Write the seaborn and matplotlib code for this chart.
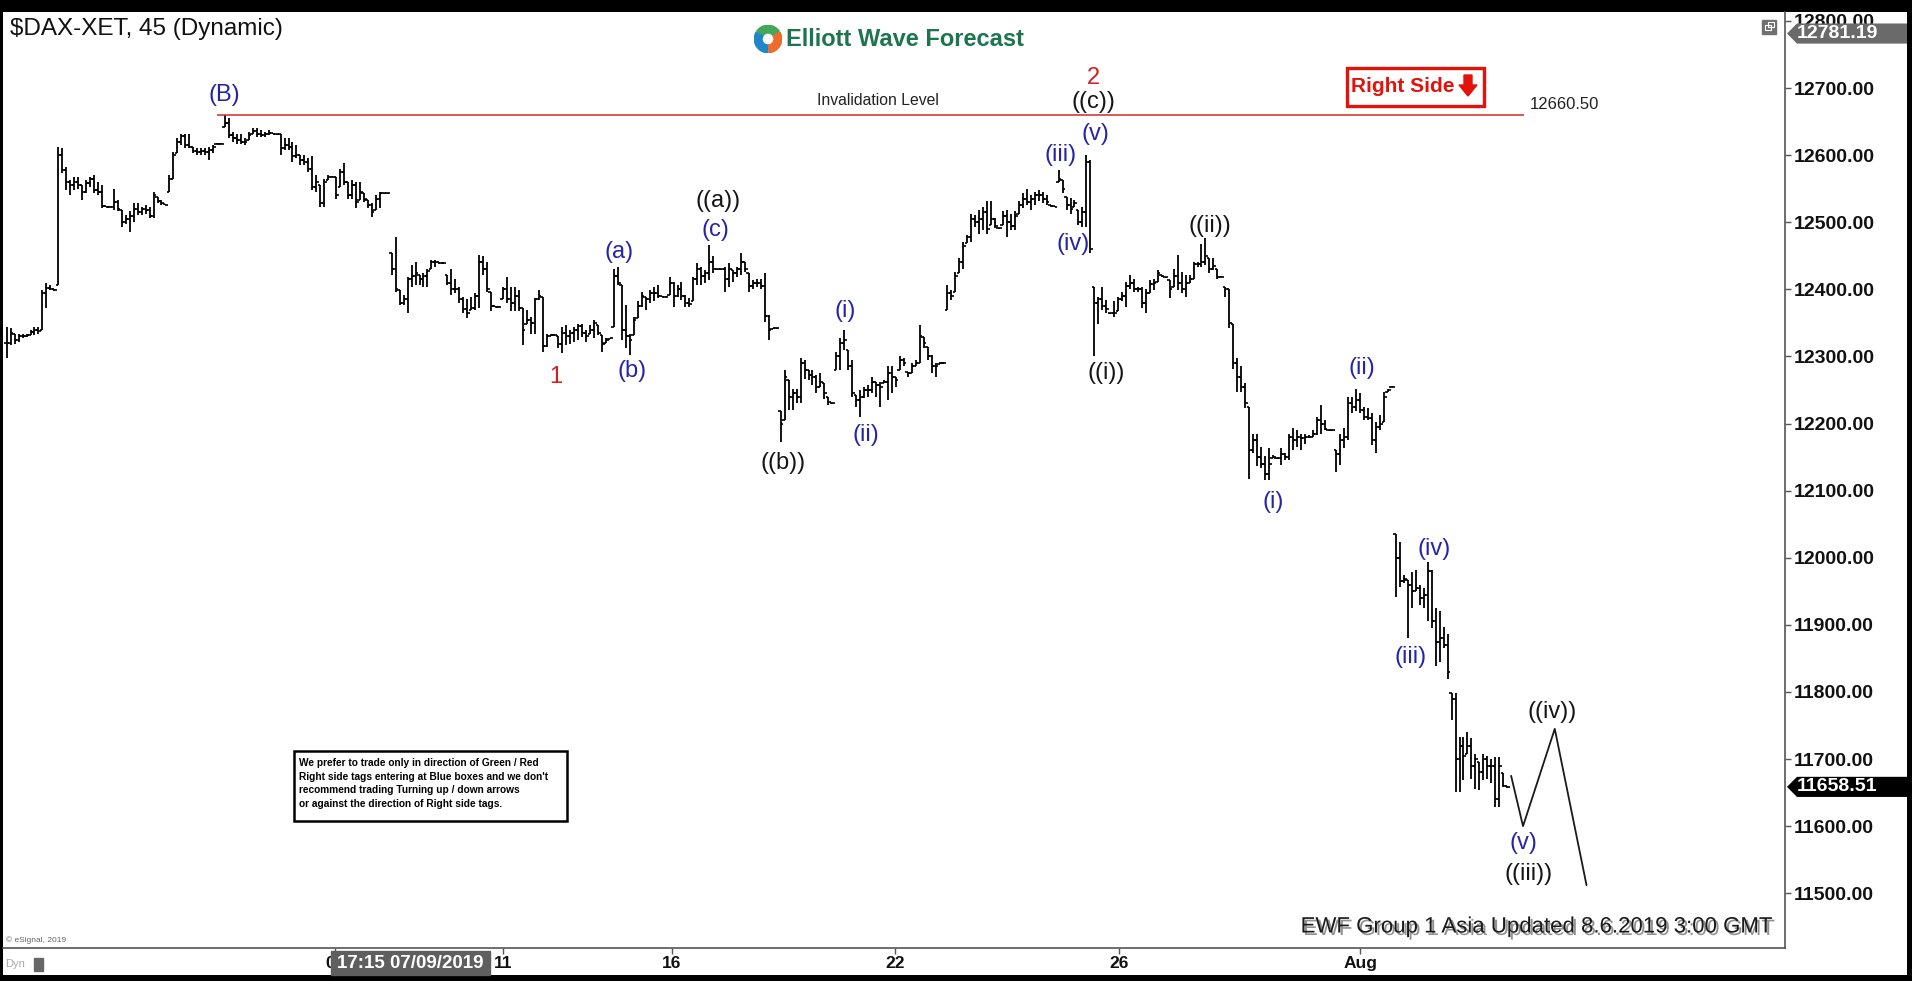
import numpy as np
import pandas as pd
import seaborn as sns
import matplotlib
matplotlib.use("Agg")
import matplotlib.pyplot as plt
from matplotlib import patches, transforms, font_manager
import matplotlib.patheffects as pe

W, H = 1912, 981

# ---- 45 min bars (left to right) ----
highs = [
    # late June / early July
    12344, 12342, 12334, 12334, 12334, 12334, 12339, 12344, 12344, 12399,
    12409, 12406, 12400, 12612, 12610, 12583, 12563, 12568, 12568, 12555,
    12563, 12568, 12570, 12560, 12555, 12524, 12524, 12550, 12533, 12518,
    12511, 12516, 12528, 12528, 12523, 12526, 12523, 12545, 12538, 12533,
    12527, 12570, 12605, 12625, 12632, 12632, 12632, 12612, 12610, 12610,
    12610, 12612, 12615, 12618, 12618, 12660, 12655, 12635, 12632, 12632,
    12625, 12635, 12640, 12640, 12637, 12635, 12637, 12633, 12632, 12632,
    12625, 12625, 12620, 12615, 12600, 12600, 12595, 12598, 12570, 12555,
    12565, 12570, 12569, 12568, 12580, 12588, 12560, 12563, 12560, 12560,
    12543, 12533, 12528, 12540, 12545, 12544, 12544,
    # wave 1 / ((a)) / ((b))
    12454, 12478, 12399, 12391, 12419, 12436, 12441, 12421, 12424, 12431,
    12444, 12444, 12440, 12440, 12421, 12431, 12416, 12404, 12389, 12386,
    12389, 12394, 12451, 12449, 12441, 12396, 12375, 12375, 12404, 12419,
    12404, 12404, 12399, 12372, 12369, 12359, 12387, 12399, 12389, 12334,
    12334, 12333, 12330, 12344, 12347, 12339, 12344, 12349, 12349, 12339,
    12347, 12354, 12347, 12332, 12327, 12328, 12431, 12434, 12406, 12377,
    12334, 12359, 12382, 12396, 12389, 12399, 12404, 12406, 12390, 12390,
    12419, 12411, 12406, 12411, 12391, 12387, 12419, 12439, 12434, 12429,
    12466, 12449, 12431, 12431, 12434, 12439, 12429, 12434, 12454, 12441,
    12424, 12414, 12416, 12416, 12424, 12362, 12343, 12343, 12218, 12280,
    12265,
    # ((c)) up to wave 2
    12252, 12252, 12297, 12295, 12280, 12280, 12272, 12275, 12260, 12240,
    12231, 12307, 12327, 12339, 12310, 12295, 12242, 12250, 12255, 12257,
    12270, 12262, 12262, 12265, 12285, 12285, 12270, 12300, 12297, 12277,
    12290, 12295, 12347, 12329, 12314, 12302, 12290, 12291, 12291, 12406,
    12399, 12426, 12446, 12471, 12481, 12513, 12511, 12518, 12523, 12531,
    12531, 12506, 12492, 12516, 12518, 12513, 12516, 12531, 12543, 12550,
    12541, 12545, 12548, 12545, 12541, 12526, 12524, 12578, 12563, 12538,
    12536, 12533, 12518, 12523, 12600, 12593, 12404, 12389, 12404, 12384,
    12365, 12382,
    # ((ii)) and decline
    12389, 12396, 12411, 12421, 12416, 12404, 12404, 12401, 12414, 12416,
    12429, 12421, 12419, 12414, 12431, 12451, 12426, 12421, 12421, 12441,
    12441, 12468, 12476, 12446, 12446, 12431, 12420, 12404, 12401, 12349,
    12297, 12285, 12260, 12225, 12185, 12185, 12165, 12151, 12163, 12153,
    12149, 12163, 12156, 12185, 12193, 12190, 12185, 12185, 12183, 12190,
    12210, 12228, 12205, 12191, 12191, 12160, 12185, 12193, 12240, 12240,
    12252, 12245, 12225, 12223, 12215, 12203, 12213, 12247, 12252, 12256,
    # August
    12036, 12024, 11974, 11967, 11979, 11982, 11960, 11955, 11994, 11982,
    11925, 11920, 11897, 11887, 11798, 11798, 11733, 11733, 11741, 11731,
    11708, 11696, 11708, 11705, 11700, 11703, 11703, 11679, 11660,
]
lows = [
    12297, 12317, 12319, 12322, 12327, 12329, 12332, 12332, 12334, 12339,
    12372, 12399, 12398, 12406, 12573, 12548, 12540, 12548, 12550, 12533,
    12543, 12553, 12543, 12540, 12521, 12522, 12522, 12518, 12516, 12493,
    12498, 12486, 12501, 12511, 12511, 12513, 12506, 12506, 12528, 12526,
    12525, 12545, 12565, 12603, 12615, 12610, 12610, 12603, 12600, 12600,
    12600, 12593, 12603, 12616, 12616, 12642, 12625, 12620, 12617, 12617,
    12615, 12622, 12632, 12627, 12627, 12627, 12630, 12631, 12630, 12600,
    12608, 12608, 12590, 12595, 12585, 12585, 12575, 12548, 12545, 12523,
    12523, 12563, 12567, 12535, 12553, 12555, 12535, 12535, 12521, 12533,
    12530, 12521, 12508, 12518, 12521, 12542, 12542,
    12421, 12396, 12377, 12377, 12364, 12404, 12406, 12406, 12404, 12404,
    12431, 12434, 12438, 12438, 12406, 12391, 12394, 12379, 12364, 12357,
    12369, 12369, 12372, 12421, 12396, 12367, 12373, 12373, 12386, 12379,
    12367, 12367, 12367, 12317, 12349, 12334, 12334, 12384, 12307, 12314,
    12331, 12331, 12312, 12305, 12317, 12319, 12322, 12324, 12329, 12322,
    12334, 12327, 12332, 12307, 12320, 12326, 12344, 12406, 12324, 12312,
    12302, 12332, 12357, 12374, 12369, 12379, 12382, 12387, 12388, 12388,
    12391, 12374, 12389, 12384, 12374, 12374, 12382, 12406, 12406, 12409,
    12414, 12424, 12429, 12429, 12396, 12404, 12411, 12419, 12421, 12426,
    12396, 12401, 12404, 12401, 12352, 12324, 12341, 12341, 12173, 12205,
    12220,
    12220, 12230, 12230, 12267, 12265, 12257, 12245, 12255, 12237, 12228,
    12229, 12280, 12280, 12310, 12280, 12240, 12225, 12210, 12238, 12240,
    12245, 12240, 12225, 12260, 12235, 12245, 12255, 12280, 12285, 12270,
    12275, 12285, 12290, 12312, 12295, 12275, 12270, 12289, 12289, 12369,
    12384, 12396, 12424, 12431, 12469, 12471, 12493, 12483, 12488, 12483,
    12496, 12491, 12490, 12496, 12478, 12488, 12488, 12513, 12521, 12526,
    12518, 12526, 12531, 12528, 12526, 12523, 12522, 12560, 12543, 12518,
    12513, 12523, 12496, 12493, 12493, 12454, 12300, 12349, 12369, 12364,
    12363, 12359,
    12367, 12382, 12374, 12401, 12396, 12396, 12372, 12364, 12394, 12399,
    12411, 12419, 12417, 12387, 12404, 12399, 12394, 12389, 12409, 12416,
    12434, 12434, 12436, 12424, 12429, 12416, 12418, 12389, 12342, 12282,
    12247, 12247, 12223, 12118, 12156, 12136, 12133, 12116, 12116, 12148,
    12147, 12138, 12146, 12146, 12160, 12165, 12160, 12170, 12178, 12180,
    12183, 12185, 12190, 12189, 12189, 12128, 12138, 12163, 12176, 12215,
    12218, 12215, 12205, 12205, 12168, 12156, 12190, 12203, 12247, 12254,
    11942, 11957, 11962, 11880, 11925, 11950, 11930, 11925, 11905, 11895,
    11838, 11845, 11865, 11820, 11758, 11651, 11651, 11669, 11708, 11671,
    11656, 11654, 11669, 11670, 11665, 11629, 11629, 11659, 11657,
]
closes = [
    12320, 12335, 12325, 12330, 12330, 12332, 12336, 12340, 12338, 12395,
    12402, 12400, 12399, 12600, 12578, 12560, 12555, 12560, 12556, 12545,
    12558, 12565, 12548, 12545, 12524, 12523, 12523, 12530, 12520, 12500,
    12505, 12510, 12520, 12515, 12520, 12518, 12510, 12540, 12532, 12528,
    12526, 12565, 12600, 12620, 12628, 12615, 12612, 12606, 12604, 12606,
    12605, 12608, 12612, 12617, 12617, 12648, 12630, 12625, 12622, 12620,
    12620, 12630, 12636, 12632, 12630, 12632, 12633, 12632, 12631, 12610,
    12615, 12612, 12598, 12600, 12592, 12590, 12580, 12552, 12560, 12528,
    12560, 12567, 12568, 12540, 12575, 12560, 12540, 12555, 12530, 12545,
    12535, 12525, 12515, 12535, 12543, 12543, 12543,
    12430, 12400, 12380, 12385, 12415, 12420, 12425, 12415, 12420, 12428,
    12440, 12440, 12439, 12439, 12410, 12400, 12400, 12385, 12370, 12365,
    12372, 12390, 12440, 12430, 12400, 12375, 12374, 12374, 12400, 12385,
    12380, 12390, 12372, 12340, 12355, 12350, 12385, 12390, 12315, 12330,
    12332, 12332, 12318, 12335, 12330, 12335, 12340, 12345, 12335, 12330,
    12340, 12350, 12335, 12318, 12325, 12327, 12420, 12410, 12340, 12330,
    12325, 12355, 12375, 12390, 12385, 12395, 12395, 12390, 12389, 12389,
    12410, 12390, 12400, 12390, 12380, 12378, 12415, 12430, 12420, 12425,
    12440, 12430, 12430, 12431, 12415, 12430, 12425, 12430, 12440, 12430,
    12405, 12410, 12410, 12405, 12360, 12340, 12342, 12342, 12200, 12270,
    12240,
    12245, 12240, 12290, 12280, 12272, 12270, 12255, 12262, 12245, 12232,
    12230, 12300, 12320, 12325, 12285, 12245, 12235, 12240, 12250, 12250,
    12262, 12258, 12255, 12262, 12275, 12270, 12265, 12295, 12290, 12275,
    12285, 12290, 12330, 12320, 12300, 12285, 12285, 12290, 12290, 12395,
    12390, 12420, 12440, 12465, 12478, 12505, 12500, 12505, 12515, 12490,
    12505, 12495, 12491, 12510, 12500, 12495, 12510, 12525, 12535, 12530,
    12535, 12540, 12540, 12535, 12530, 12524, 12523, 12565, 12550, 12525,
    12520, 12528, 12500, 12515, 12590, 12460, 12380, 12385, 12375, 12370,
    12364, 12365,
    12385, 12390, 12405, 12410, 12400, 12400, 12380, 12395, 12408, 12410,
    12425, 12420, 12418, 12400, 12420, 12410, 12400, 12410, 12415, 12438,
    12438, 12440, 12450, 12430, 12435, 12418, 12419, 12400, 12350, 12290,
    12270, 12255, 12230, 12160, 12175, 12150, 12140, 12125, 12140, 12150,
    12148, 12155, 12150, 12180, 12175, 12180, 12178, 12180, 12180, 12185,
    12205, 12200, 12192, 12190, 12190, 12155, 12175, 12180, 12230, 12225,
    12235, 12220, 12210, 12208, 12175, 12195, 12200, 12240, 12250, 12255,
    12000, 11965, 11968, 11960, 11950, 11955, 11940, 11945, 11980, 11905,
    11875, 11880, 11870, 11830, 11790, 11700, 11720, 11705, 11720, 11690,
    11700, 11680, 11700, 11690, 11690, 11640, 11690, 11660, 11658.51,
]

# forecast path: bars after the last one, prices
proj_offset = [1, 4, 12, 20]
proj_price = [11675, 11600, 11745, 11512]

invalid_level = 12660.50
invalid_span = (53, 382.3)
cursor_price = 12781.19

# day labels on the time axis (bar positions)
tick_bars = [82.7, 125.0, 167.6, 223.8, 280.2, 341.0]
tick_labels = ["08", "11", "16", "22", "26", "Aug"]
price_ticks = np.arange(11500, 12801, 100)

BLUE, RED, BLK = "#2424a8", "#d41f1f", "#151515"
wave_labels = [
    ("(B)", 54.8, 12690, BLUE), ("1", 138.4, 12269, RED),
    ("(a)", 154.3, 12456, BLUE), ("(b)", 157.5, 12278, BLUE),
    ("((a))", 179.2, 12532, BLK), ("(c)", 178.5, 12488, BLUE),
    ("((b))", 195.6, 12141, BLK), ("(i)", 211.2, 12368, BLUE),
    ("(ii)", 216.5, 12183, BLUE), ("2", 273.7, 12715, RED),
    ("((c))", 273.7, 12679, BLK), ("(iii)", 265.6, 12600, BLUE),
    ("(v)", 274.2, 12631, BLUE), ("(iv)", 268.7, 12467, BLUE),
    ("((i))", 277.0, 12275, BLK), ("((ii))", 303.2, 12494, BLK),
    ("(i)", 319.0, 12083, BLUE), ("(ii)", 341.5, 12283, BLUE),
    ("(iii)", 353.6, 11852, BLUE), ("(iv)", 359.6, 12013, BLUE),
    ("(v)", 382.0, 11575, BLUE), ("((iii))", 383.3, 11529, BLK),
    ("((iv))", 389.3, 11770, BLK),
]

sns.set_theme(style="white")
names = {f.name for f in font_manager.fontManager.ttflist}
HAS_NARROW = "Liberation Sans Narrow" in names
NARROW = "Liberation Sans Narrow" if HAS_NARROW else "Liberation Sans"
plt.rcParams["font.family"] = ["Liberation Sans", "DejaVu Sans"]

df = pd.DataFrame({"high": highs, "low": lows, "close": closes})
df["bar"] = np.arange(len(df))
df["open"] = np.clip(df["close"].shift(1).fillna(df["close"]), df["low"], df["high"])


def fx(px):
    return px / W


def fy(py):
    return 1 - py / H


fig = plt.figure(figsize=(W / 100, H / 100), dpi=100, facecolor="black")
fig.patches.append(patches.Rectangle((fx(3), fy(975)), fx(1907) - fx(3), fy(12) - fy(975),
                                     transform=fig.transFigure, facecolor="white",
                                     edgecolor="none", zorder=-5))

ax = fig.add_axes([fx(3), fy(948), fx(1785) - fx(3), fy(12) - fy(948)])
ax.set_facecolor("white")

# OHLC bars
ax.vlines(df["bar"], df["low"], df["high"], color="black", lw=1.3)
ax.hlines(df["open"], df["bar"] - 0.65, df["bar"], color="black", lw=1.2)
ax.hlines(df["close"], df["bar"], df["bar"] + 0.65, color="black", lw=1.2)

# forecast path
last = df["bar"].iloc[-1]
sns.lineplot(x=[last + o for o in proj_offset], y=proj_price, sort=False,
             color="#1a1a1a", lw=1.3, ax=ax, legend=False)

# invalidation level
ax.hlines(invalid_level, *invalid_span, color="#cf2a2a", lw=1.1)
ax.text(219.5, 12681, "Invalidation Level", ha="center", va="center",
        fontsize=13.5 if HAS_NARROW else 11.3, family=NARROW, color="#222")
ax.text(383.8, 12675, f"{invalid_level:.2f}", ha="left", va="center",
        fontsize=12, color="#222")

for txt, b, p, c in wave_labels:
    ax.text(b, p, txt, ha="center", va="center", fontsize=17, color=c)

ax.set_xlim(-0.93, 448.0)
ax.set_ylim(11418.4, 12813.3)

ax.yaxis.tick_right()
ax.set_yticks(price_ticks)
ax.set_yticklabels([f"{v:.2f}" for v in price_ticks])
ax.set_xticks(tick_bars)
ax.set_xticklabels(tick_labels)
ax.tick_params(axis="y", length=4, width=1, color="#555", pad=2,
               labelsize=14, labelcolor="#111", right=True, left=False)
ax.tick_params(axis="x", length=4, width=1, color="#555", pad=2,
               labelsize=15 if HAS_NARROW else 12.5, labelcolor="#111", bottom=True)
plt.setp(ax.get_yticklabels(), fontweight="bold")
plt.setp(ax.get_xticklabels(), fontweight="bold", family=NARROW)
for s in ["top", "left"]:
    ax.spines[s].set_visible(False)
for s in ["right", "bottom"]:
    ax.spines[s].set_color("#555")
    ax.spines[s].set_linewidth(1.2)
ax.grid(False)

# price tags on the right scale
trans = transforms.blended_transform_factory(fig.transFigure, ax.transData)
for price, face in [(cursor_price, "#6a6a6a"), (closes[-1], "black")]:
    poly = [(fx(1787), price), (fx(1797), price + 15), (fx(1907), price + 15),
            (fx(1907), price - 15), (fx(1797), price - 15)]
    ax.add_patch(patches.Polygon(poly, closed=True, transform=trans, facecolor=face,
                                 edgecolor="none", clip_on=False, zorder=6))
    ax.text(fx(1837), price, f"{price:.2f}", transform=trans, ha="center", va="center",
            fontsize=14, fontweight="bold", color="white", zorder=7, clip_on=False)

# title
fig.text(fx(10), fy(29), "$DAX-XET, 45 (Dynamic)", ha="left", va="center",
         fontsize=17.5, color="#111")

# logo
lax = fig.add_axes([fx(754), fy(53), fx(28), 28 / H])
lax.set_xlim(-1, 1)
lax.set_ylim(-1, 1)
lax.axis("off")
for a0, a1, col in [(35, 145, "#43a857"), (150, 270, "#1f86c9"), (275, 390, "#ec6b2d")]:
    lax.add_patch(patches.Wedge((0, 0), 0.98, a0, a1, width=0.55, color=col))
fig.text(fx(786), fy(39), "Elliott Wave Forecast", ha="left", va="center",
         fontsize=17, fontweight="bold", color="#1d7550")

# small window icon
fig.patches.append(patches.Rectangle((fx(1762), fy(34)), fx(14), 14 / H,
                                     transform=fig.transFigure, color="#707070"))
fig.patches.append(patches.Rectangle((fx(1765), fy(30)), fx(6), 5 / H, transform=fig.transFigure,
                                     fill=False, edgecolor="white", lw=0.8))
fig.patches.append(patches.Rectangle((fx(1768), fy(27)), fx(6), 5 / H, transform=fig.transFigure,
                                     fill=False, edgecolor="white", lw=0.8))

# Right Side tag
fig.patches.append(patches.Rectangle((fx(1346.5), fy(105.5)), fx(137), 37 / H,
                                     transform=fig.transFigure, facecolor="white",
                                     edgecolor="#e3120b", lw=2.4))
fig.text(fx(1351), fy(87), "Right Side", ha="left", va="center", fontsize=15,
         fontweight="bold", color="#e3120b")
arrow = [(1464, 75), (1472, 75), (1472, 85), (1477, 85), (1468, 96), (1459, 85), (1464, 85)]
fig.patches.append(patches.Polygon([(fx(x), fy(y)) for x, y in arrow], closed=True,
                                   transform=fig.transFigure, color="#e3120b"))

# disclaimer box
fig.patches.append(patches.Rectangle((fx(294), fy(821)), fx(273), 70 / H,
                                     transform=fig.transFigure, facecolor="white",
                                     edgecolor="black", lw=1.8))
disclaimer = ["We prefer to trade only in direction of Green / Red",
              "Right side tags entering at Blue boxes and we don't",
              "recommend trading Turning up / down arrows",
              "or against the direction of Right side tags."]
for k, line in enumerate(disclaimer):
    fig.text(fx(299), fy(763 + 13.6 * k), line, ha="left", va="center", fontsize=7.3,
             fontweight="bold", color="black")

# footer texts
fig.text(fx(1773), fy(927), "EWF Group 1 Asia Updated 8.6.2019 3:00 GMT", ha="right",
         va="center", fontsize=16, color="#1a1a1a",
         path_effects=[pe.withSimplePatchShadow(offset=(1.8, -1.8), shadow_rgbFace="#777", alpha=0.8)])
fig.text(fx(6), fy(940), "\u00a9 eSignal, 2019", ha="left", va="center", fontsize=6, color="#666")
fig.text(fx(5), fy(964), "Dyn", ha="left", va="center", fontsize=8, color="#aaa")
fig.patches.append(patches.Rectangle((fx(34), fy(971)), fx(9), 13 / H,
                                     transform=fig.transFigure, color="#666"))

# crosshair date box on the time axis
fig.patches.append(patches.Rectangle((fx(331), fy(975)), fx(159), 24 / H,
                                     transform=fig.transFigure, color="#5f5f5f", zorder=10))
fig.text(fx(410), fy(964), "17:15 07/09/2019", ha="center", va="center",
         fontsize=16 if HAS_NARROW else 13.5, fontweight="bold", family=NARROW,
         color="white", zorder=11)

fig.savefig("out.png", dpi=100, facecolor="black")
